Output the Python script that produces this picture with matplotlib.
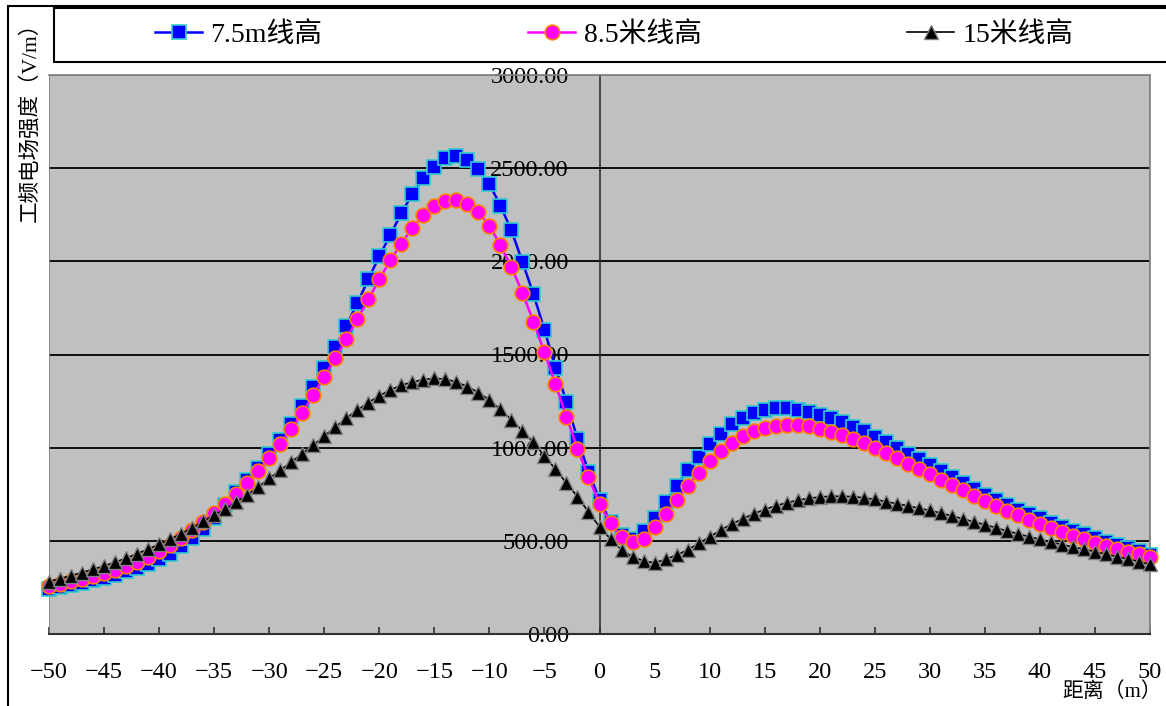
import matplotlib
matplotlib.use("Agg")
import matplotlib.pyplot as plt
from matplotlib.patches import Rectangle
from matplotlib.ticker import FormatStrFormatter, MultipleLocator

plt.rcParams['font.family'] = ['Liberation Serif', 'Noto Sans CJK SC', 'DejaVu Sans']

# 距离 (m)
distance = list(range(-50, 51))

# 7.5m线高
e_75 = [242, 252, 263, 275, 288, 302, 318, 336, 356, 378,
        403, 432, 470, 515, 565, 625, 692, 762, 828, 893,
        964, 1043, 1125, 1222, 1323, 1427, 1540, 1654, 1775, 1903,
        2027, 2141, 2258, 2361, 2447, 2507, 2553, 2566, 2544, 2495,
        2415, 2299, 2166, 1997, 1824, 1632, 1430, 1245, 1048, 871,
        721, 600, 530, 510, 553, 624, 707, 795, 880, 951,
        1021, 1074, 1127, 1159, 1184, 1201, 1214, 1214, 1203, 1190,
        1176, 1158, 1137, 1113, 1088, 1058, 1028, 999, 968, 937,
        905, 873, 841, 809, 777, 748, 720, 694, 668, 644,
        620, 597, 575, 554, 534, 514, 495, 477, 460, 443,
        425]

# 8.5米线高
e_85 = [258, 270, 283, 297, 312, 328, 346, 366, 388, 414,
        445, 478, 515, 556, 600, 648, 699, 753, 810, 873,
        944, 1020, 1100, 1185, 1285, 1380, 1480, 1583, 1689, 1796,
        1903, 2006, 2095, 2180, 2246, 2299, 2326, 2329, 2308, 2264,
        2192, 2086, 1970, 1831, 1677, 1511, 1340, 1166, 995, 841,
        700, 594, 518, 495, 512, 575, 645, 720, 795, 865,
        928, 982, 1027, 1062, 1088, 1108, 1118, 1124, 1124, 1115,
        1102, 1085, 1067, 1047, 1023, 997, 970, 943, 914, 885,
        856, 828, 800, 771, 742, 712, 686, 662, 637, 614,
        590, 567, 547, 528, 509, 490, 473, 457, 442, 428,
        413]

# 15米线高
e_15 = [281, 297, 313, 330, 347, 365, 385, 407, 431, 455,
        482, 509, 538, 570, 604, 640, 670, 708, 746, 789,
        835, 878, 923, 968, 1013, 1062, 1110, 1158, 1201, 1242,
        1278, 1310, 1335, 1352, 1365, 1372, 1368, 1352, 1328, 1296,
        1255, 1205, 1150, 1090, 1028, 955, 885, 810, 737, 655,
        575, 510, 451, 415, 392, 382, 400, 424, 451, 486,
        521, 557, 590, 618, 645, 668, 688, 704, 718, 728,
        735, 739, 739, 737, 731, 722, 711, 699, 688, 675,
        663, 649, 634, 618, 602, 587, 570, 553, 538, 522,
        508, 494, 480, 467, 455, 442, 428, 415, 402, 389,
        373]

fig = plt.figure(figsize=(11.66, 7.06), dpi=100)
fig.patch.set_facecolor('white')

# outer chart frame
fig.patches.append(Rectangle((8 / 1166, -0.1), 1.2, 1.1 - 6 / 706, transform=fig.transFigure,
                             fill=False, edgecolor='black', linewidth=1.5))

ax = fig.add_axes([49 / 1166, 72 / 706, 1101 / 1166, 559 / 706])
ax.set_facecolor('#C0C0C0')

ax.plot(distance, e_75, color='#0000FF', lw=1.8, marker='s', ms=9.5,
        mfc='#0000FF', mec='#33CCCC', mew=1.2, label='7.5m线高', clip_on=False, zorder=3)
ax.plot(distance, e_85, color='#FF00FF', lw=1.8, marker='o', ms=10.5,
        mfc='#FF00FF', mec='#FF8000', mew=1.2, label='8.5米线高', clip_on=False, zorder=4)
ax.plot(distance, e_15, color='#000000', lw=1.2, marker='^', ms=10.5,
        mfc='#000000', mec='#808080', mew=1.0, label='15米线高', clip_on=False, zorder=5)

ax.set_xlim(-50, 50)
ax.set_ylim(0, 3000)
ax.xaxis.set_major_locator(MultipleLocator(5))
ax.yaxis.set_major_locator(MultipleLocator(500))
ax.yaxis.set_major_formatter(FormatStrFormatter('%.2f'))

ax.grid(axis='y', color='black', linewidth=1.3)
ax.set_axisbelow(True)

ax.spines['left'].set_position(('data', 0))
ax.spines['left'].set_color('#303030')
ax.spines['left'].set_linewidth(1.2)
ax.spines['bottom'].set_color('#303030')
ax.spines['bottom'].set_linewidth(1.5)
for side in ['top', 'right']:
    ax.spines[side].set_color('#808080')
    ax.spines[side].set_linewidth(1.2)
ax.add_patch(Rectangle((0, 0), 1, 1, transform=ax.transAxes, fill=False,
                       edgecolor='#808080', linewidth=1.2, zorder=0.6))

ax.tick_params(axis='y', length=0, pad=22, labelsize=17.5)
ax.tick_params(axis='x', direction='in', length=5, width=1.2, color='#303030',
               pad=20, labelsize=17.5)
for lbl in ax.get_yticklabels():
    lbl.set_zorder(6)

# legend box
fig.patches.append(Rectangle((54 / 1166, 1 - 62 / 706), 1.0, 54 / 706, transform=fig.transFigure,
                             facecolor='white', edgecolor='black', linewidth=1.5))
fig.legend(loc='center left', bbox_to_anchor=(155 / 1166, 1 - 35 / 706), ncol=3,
           frameon=False, fontsize=20, handlelength=1.7, handletextpad=0.3,
           columnspacing=7.4, borderaxespad=0, borderpad=0)

fig.text(30 / 1166, 1 - 12 / 706, '工频电场强度（V/m）', rotation=90, ha='center', va='top',
         fontsize=15.5)
fig.text(1162 / 1166, 4 / 706, '距离（m）', ha='right', va='bottom', fontsize=15)

fig.savefig('out.png', dpi=100)
